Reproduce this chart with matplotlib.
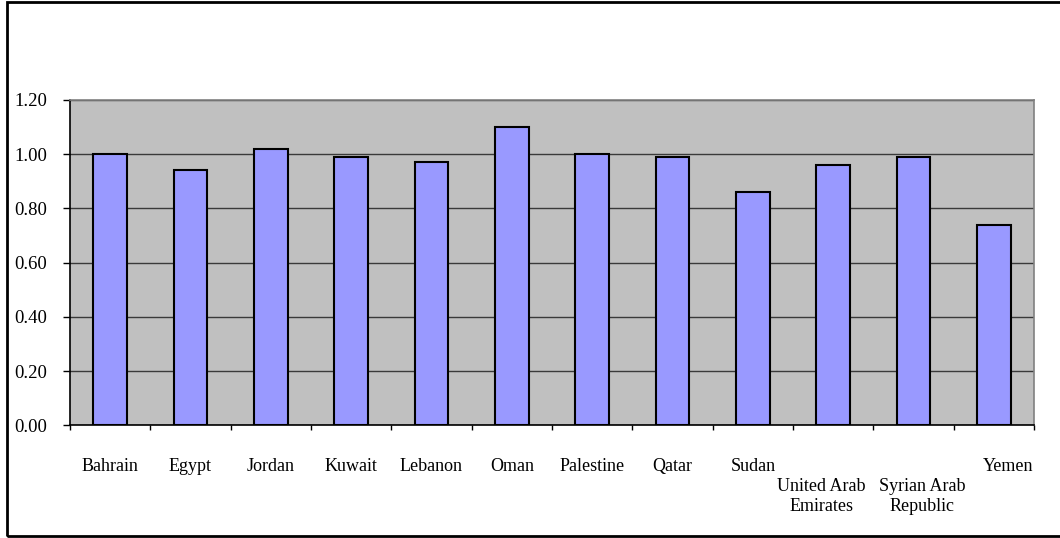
import numpy as np
import matplotlib
matplotlib.use("Agg")
import matplotlib.pyplot as plt
from matplotlib.patches import Rectangle

countries = ["Bahrain", "Egypt", "Jordan", "Kuwait", "Lebanon", "Oman", "Palestine",
             "Qatar", "Sudan", "United Arab\nEmirates", "Syrian Arab\nRepublic", "Yemen"]
values = [1.00, 0.94, 1.02, 0.99, 0.97, 1.10, 1.00, 0.99, 0.86, 0.96, 0.99, 0.74]
y_ticks = [0.0, 0.2, 0.4, 0.6, 0.8, 1.0, 1.2]

plt.rcParams["font.family"] = ["Liberation Serif", "DejaVu Serif"]

fig = plt.figure(figsize=(10.6, 5.38), dpi=100)
ax = fig.add_axes([70 / 1060, 1 - 425.3 / 538, (1034 - 70) / 1060, (425.3 - 100) / 538])

# outer chart border (right edge is cut off in the reference)
fig.patches.append(Rectangle((7 / 1060, 2 / 538), 1.1, 534 / 538, transform=fig.transFigure,
                             fill=False, edgecolor="black", linewidth=2.0, zorder=10))

x = np.arange(len(countries))
ax.set_facecolor("#c0c0c0")
ax.bar(x, values, width=0.42, color="#9999ff", edgecolor="black", linewidth=1.5, zorder=3)

ax.set_xlim(-0.5, len(countries) - 0.5)
ax.set_ylim(0, 1.2)
ax.set_yticks(y_ticks)
ax.set_yticklabels([f"{v:.2f}" for v in y_ticks], fontsize=13.5)
ax.yaxis.grid(True, color="#3a3a3a", linewidth=1.0, zorder=1)
ax.set_axisbelow(True)

ax.set_xticks(np.arange(len(countries) + 1) - 0.5)
ax.set_xticklabels([])
ax.tick_params(axis="x", direction="out", length=3.6, width=1, color="black")
ax.tick_params(axis="y", direction="out", length=5, width=1, color="black", pad=11.5)

for side in ["top", "right"]:
    ax.spines[side].set_color("#808080")
    ax.spines[side].set_linewidth(1.2)
for side in ["left", "bottom"]:
    ax.spines[side].set_color("black")
    ax.spines[side].set_linewidth(1.2)

# category labels, two-line ones sit lower like in the original;
# the last three are nudged sideways the way Excel laid them out
nudge = {"United Arab\nEmirates": -0.15, "Syrian Arab\nRepublic": 0.11, "Yemen": 0.18}
for i, name in enumerate(countries):
    y_px = 478 if "\n" in name else 458
    ax.text(i + nudge.get(name, 0), 1 - (y_px - 100) / (425.3 - 100), name,
            transform=ax.get_xaxis_transform(),
            ha="center", va="top", fontsize=13, linespacing=1.2)

fig.savefig("out.png", dpi=100)
